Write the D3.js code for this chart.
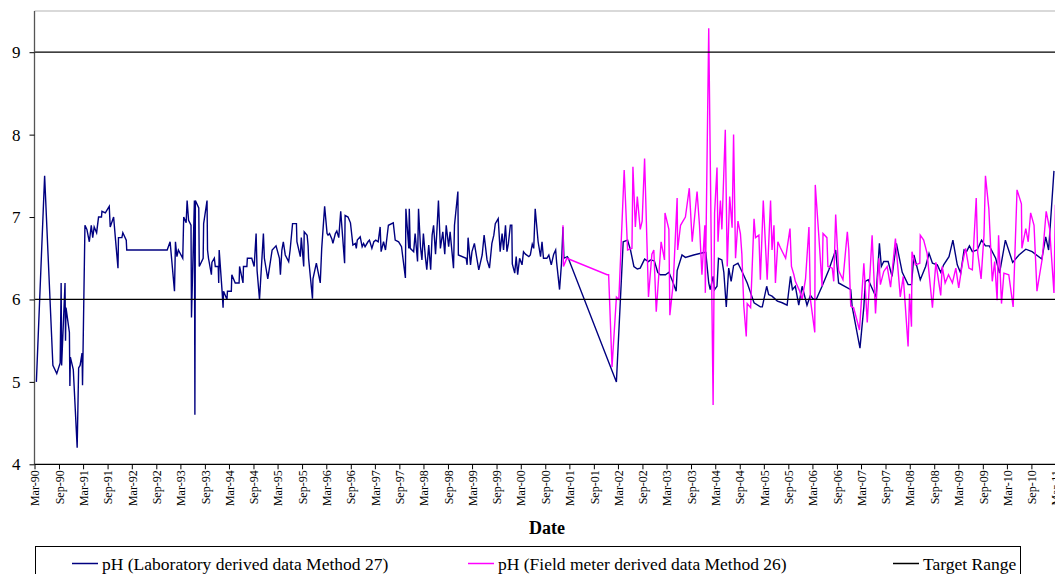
<!DOCTYPE html>
<html>
<head>
<meta charset="utf-8">
<script src="https://cdn.jsdelivr.net/npm/d3@7"></script>
<style>
  html, body { margin: 0; padding: 0; background: #fff; }
  svg { display: block; }
</style>
</head>
<body>
<svg id="chart" width="1055" height="574"></svg>
<script>
// ---- data (decimal year, pH) ----
const labDates = [1990.20,1990.37,1990.54,1990.62,1990.69,1990.71,1990.72,1990.79,1990.80,1990.81,1990.88,1990.89,1990.90,1990.96,1991.04,1991.07,1991.10,1991.14,1991.15,1991.20,1991.24,1991.29,1991.33,1991.36,1991.39,1991.44,1991.48,1991.54,1991.55,1991.62,1991.65,1991.70,1991.72,1991.79,1991.83,1991.88,1991.89,1991.96,1991.98,1992.05,1992.06,1992.89,1992.95,1993.04,1993.06,1993.09,1993.12,1993.21,1993.23,1993.28,1993.30,1993.33,1993.38,1993.39,1993.45,1993.46,1993.47,1993.54,1993.55,1993.63,1993.64,1993.71,1993.72,1993.74,1993.80,1993.81,1993.86,1993.88,1993.94,1993.95,1993.96,1994.02,1994.04,1994.05,1994.12,1994.13,1994.21,1994.22,1994.29,1994.37,1994.38,1994.45,1994.46,1994.53,1994.54,1994.63,1994.68,1994.72,1994.74,1994.79,1994.87,1994.89,1994.96,1995.05,1995.13,1995.20,1995.22,1995.25,1995.28,1995.32,1995.39,1995.42,1995.47,1995.55,1995.56,1995.63,1995.65,1995.70,1995.71,1995.77,1995.79,1995.80,1995.88,1995.89,1995.96,1996.04,1996.07,1996.13,1996.18,1996.20,1996.23,1996.28,1996.30,1996.35,1996.38,1996.42,1996.46,1996.54,1996.55,1996.61,1996.66,1996.71,1996.76,1996.78,1996.80,1996.86,1996.90,1996.93,1996.96,1997.02,1997.05,1997.10,1997.14,1997.18,1997.23,1997.27,1997.29,1997.34,1997.38,1997.44,1997.54,1997.58,1997.65,1997.71,1997.79,1997.80,1997.86,1997.87,1997.89,1997.96,1997.99,1998.04,1998.06,1998.10,1998.13,1998.16,1998.20,1998.23,1998.27,1998.31,1998.34,1998.37,1998.41,1998.44,1998.47,1998.51,1998.56,1998.60,1998.63,1998.68,1998.71,1998.78,1998.80,1998.87,1998.88,1999.04,1999.06,1999.08,1999.13,1999.16,1999.21,1999.26,1999.30,1999.37,1999.41,1999.43,1999.47,1999.52,1999.57,1999.61,1999.64,1999.70,1999.74,1999.78,1999.81,1999.85,1999.88,1999.91,1999.95,1999.98,1999.99,2000.04,2000.07,2000.10,2000.14,2000.19,2000.22,2000.26,2000.33,2000.36,2000.40,2000.43,2000.46,2000.52,2000.57,2000.60,2000.63,2000.70,2000.74,2000.79,2000.84,2000.88,2000.90,2000.96,2001.00,2001.03,2001.05,2001.12,2001.14,2002.13,2002.27,2002.36,2002.42,2002.49,2002.56,2002.62,2002.71,2002.79,2002.83,2002.91,2002.98,2003.03,2003.14,2003.21,2003.28,2003.36,2003.38,2003.48,2003.55,2003.72,2003.93,2003.97,2004.03,2004.06,2004.12,2004.15,2004.20,2004.23,2004.30,2004.34,2004.39,2004.44,2004.49,2004.54,2004.63,2004.72,2004.82,2004.89,2004.96,2005.09,2005.13,2005.22,2005.26,2005.33,2005.44,2005.54,2005.64,2005.71,2005.75,2005.81,2005.88,2005.95,2006.05,2006.12,2006.17,2006.24,2006.36,2006.50,2006.64,2006.70,2006.95,2006.98,2007.14,2007.22,2007.25,2007.31,2007.47,2007.54,2007.58,2007.63,2007.72,2007.80,2007.89,2008.01,2008.13,2008.20,2008.25,2008.38,2008.49,2008.56,2008.63,2008.73,2008.80,2008.86,2008.97,2009.05,2009.14,2009.21,2009.28,2009.33,2009.39,2009.45,2009.55,2009.64,2009.72,2009.80,2009.93,2010.01,2010.13,2010.28,2010.41,2010.55,2010.68,2010.88,2010.96,2011.02,2011.13];
const labValues = [5.0,7.5,5.2,5.1,5.23,6.2,5.2,6.2,5.5,5.9,5.6,4.95,5.3,5.15,4.2,5.17,5.2,5.35,4.96,6.9,6.85,6.7,6.9,6.75,6.88,6.81,7.0,7.0,7.07,7.05,7.08,7.13,6.88,7.0,6.72,6.38,6.75,6.75,6.81,6.72,6.6,6.6,6.7,6.1,6.7,6.52,6.6,6.5,7.0,6.93,7.2,6.96,6.9,5.78,7.2,4.6,7.2,7.11,6.4,6.5,6.92,7.2,6.6,6.5,6.3,6.45,6.5,6.4,6.4,6.2,6.6,6.1,5.9,6.1,6.0,6.1,6.1,6.3,6.2,6.2,6.4,6.2,6.4,6.4,6.5,6.5,6.4,6.8,6.35,6.0,6.8,6.5,6.25,6.6,6.65,6.5,6.3,6.6,6.7,6.54,6.46,6.6,6.92,6.92,6.7,6.52,6.75,6.4,6.82,6.78,6.65,6.5,6.01,6.25,6.44,6.2,6.62,7.13,6.8,6.78,6.8,6.73,6.68,6.8,6.83,6.75,7.07,6.44,7.02,7.0,6.93,6.66,6.68,6.62,6.72,6.76,6.64,6.68,6.64,6.7,6.72,6.62,6.7,6.72,6.7,6.88,6.58,6.7,6.6,6.9,6.93,6.72,6.7,6.64,6.26,7.1,6.62,7.1,6.62,6.58,6.8,6.46,7.1,6.64,6.48,6.8,6.52,6.36,6.66,6.36,6.78,6.9,6.55,6.85,7.2,6.62,6.82,6.55,6.9,6.64,6.82,6.38,6.9,7.31,6.54,6.5,6.42,6.75,6.42,6.58,6.68,6.5,6.36,6.54,6.78,6.68,6.48,6.38,6.68,6.78,6.92,6.98,6.58,6.8,6.6,6.9,6.58,6.68,6.9,6.9,6.43,6.32,6.52,6.3,6.5,6.42,6.58,6.55,6.52,6.54,6.67,6.62,7.1,6.7,6.52,6.7,6.5,6.5,6.54,6.42,6.55,6.6,6.45,6.12,6.44,6.88,6.5,6.52,6.5,5.0,6.7,6.72,6.6,6.4,6.37,6.38,6.49,6.46,6.48,6.47,6.33,6.3,6.3,6.33,6.23,6.1,6.35,6.54,6.51,6.54,6.57,6.57,6.2,6.12,6.28,6.12,6.16,6.5,6.48,6.33,5.91,6.38,6.22,6.41,6.44,6.33,6.2,6.08,5.96,5.91,5.91,6.16,6.06,6.04,5.98,5.96,5.93,6.28,6.12,6.16,5.93,6.16,5.93,6.05,6.01,6.0,6.16,6.36,6.6,6.2,6.12,5.91,5.41,5.91,6.22,6.24,6.03,6.68,6.4,6.46,6.46,6.28,6.68,6.33,6.18,6.18,6.54,6.24,6.4,6.56,6.44,6.42,6.33,6.42,6.52,6.72,6.42,6.32,6.6,6.58,6.65,6.58,6.6,6.72,6.65,6.65,6.5,6.32,6.72,6.45,6.54,6.61,6.58,6.49,6.76,6.6,7.56];

const fieldDates = [2001.03,2001.04,2001.11,2001.94,2001.97,2002.04,2002.13,2002.18,2002.29,2002.36,2002.45,2002.47,2002.52,2002.56,2002.62,2002.66,2002.71,2002.79,2002.86,2002.90,2002.95,2003.05,2003.12,2003.13,2003.21,2003.23,2003.30,2003.38,2003.39,2003.45,2003.50,2003.55,2003.63,2003.69,2003.79,2003.84,2003.89,2003.95,2003.96,2004.03,2004.12,2004.15,2004.20,2004.22,2004.27,2004.30,2004.37,2004.41,2004.46,2004.51,2004.54,2004.58,2004.63,2004.68,2004.71,2004.75,2004.80,2004.82,2004.89,2004.96,2004.99,2005.06,2005.09,2005.15,2005.23,2005.30,2005.33,2005.37,2005.40,2005.45,2005.50,2005.61,2005.70,2005.73,2005.78,2005.81,2005.90,2005.95,2006.02,2006.09,2006.12,2006.21,2006.22,2006.29,2006.36,2006.38,2006.46,2006.48,2006.57,2006.60,2006.64,2006.70,2006.79,2006.88,2006.91,2006.95,2007.01,2007.13,2007.22,2007.29,2007.39,2007.46,2007.53,2007.56,2007.63,2007.70,2007.77,2007.87,2007.97,2008.03,2008.07,2008.13,2008.16,2008.20,2008.21,2008.28,2008.37,2008.38,2008.45,2008.52,2008.63,2008.70,2008.80,2008.83,2008.89,2008.96,2009.04,2009.11,2009.17,2009.24,2009.31,2009.38,2009.45,2009.53,2009.56,2009.63,2009.69,2009.72,2009.79,2009.86,2009.91,2009.96,2009.99,2010.05,2010.10,2010.20,2010.29,2010.37,2010.46,2010.47,2010.55,2010.60,2010.65,2010.72,2010.78,2010.89,2010.97,2011.04,2011.13,2011.16];
const fieldValues = [6.9,6.4,6.5,6.3,6.3,5.18,6.03,6.0,7.57,6.6,6.62,7.61,6.88,7.25,6.85,6.95,7.71,6.03,6.55,6.6,5.85,6.7,6.48,7.05,6.85,5.81,6.2,7.23,6.6,6.9,6.95,7.0,7.35,6.7,7.31,6.9,6.3,6.9,6.08,9.29,4.72,7.05,7.6,6.7,7.2,6.85,8.06,6.4,7.25,6.87,8.0,6.5,6.95,6.8,6.55,5.92,5.55,5.95,5.9,6.98,6.75,6.78,6.24,7.2,6.24,7.2,6.6,6.9,6.2,6.7,6.63,6.5,6.86,6.4,6.3,6.22,6.1,6.0,6.25,6.88,6.0,5.6,7.39,6.8,6.16,6.8,6.75,6.4,6.38,6.22,7.03,6.35,6.24,6.82,6.6,5.92,5.9,5.63,6.44,5.72,6.78,5.83,6.5,6.18,6.34,6.4,6.15,6.74,6.03,6.28,5.95,5.43,6.07,5.67,6.58,6.42,6.44,6.78,6.72,6.56,5.9,6.45,6.05,6.4,6.2,6.3,6.2,6.38,6.14,6.42,6.62,6.38,6.36,7.23,6.57,6.25,6.78,7.5,7.1,6.22,6.46,5.99,6.78,5.95,6.32,6.3,5.91,7.33,7.16,6.62,6.86,6.7,7.05,6.9,6.1,6.5,7.07,6.86,6.08,7.15];

const targetValues = [6, 9];
const yTicks = [4, 5, 6, 7, 8, 9];
const monthNames = ["Jan","Feb","Mar","Apr","May","Jun","Jul","Aug","Sep","Oct","Nov","Dec"];
const seriesNames = ["pH (Laboratory derived data Method 27)", "pH (Field meter derived data Method 26)", "Target Range"];
const seriesColors = ["#000080", "#FF00FF", "#000000"];
const xTitle = "Date";

// ---- helpers ----
function yearToDate(yv) {
  const yr = Math.floor(yv);
  const start = Date.UTC(yr, 0, 1), end = Date.UTC(yr + 1, 0, 1);
  return new Date(start + (yv - yr) * (end - start));
}
const lab = labDates.map((d, i) => ({ date: yearToDate(d), v: labValues[i] }));
const field = fieldDates.map((d, i) => ({ date: yearToDate(d), v: fieldValues[i] }));

// ---- layout ----
const svg = d3.select("#chart");
const plotL = 34.5, plotT = 11, plotB = 464.3;
const plotR = 1062;
const font = "'Liberation Serif','Times New Roman',serif";

const x = d3.scaleUtc()
  .domain([new Date(Date.UTC(1990, 2, 1)), new Date(Date.UTC(2011, 2, 1))])
  .range([plotL, 1055.5]);
const y = d3.scaleLinear().domain([4, 9.5]).range([plotB, plotT]);
const xEnd = x.invert(plotR);

// plot border (top light grey)
svg.append("line").attr("x1", plotL).attr("x2", plotR).attr("y1", plotT).attr("y2", plotT)
  .attr("stroke", "#b4b4b4").attr("stroke-width", 1.2);

svg.append("clipPath").attr("id", "clip").append("rect")
  .attr("x", plotL).attr("y", plotT).attr("width", plotR - plotL).attr("height", plotB - plotT);

const line = d3.line().x(d => x(d.date)).y(d => y(d.v));
const g = svg.append("g").attr("clip-path", "url(#clip)");

g.append("path").datum(lab).attr("d", line)
  .attr("fill", "none").attr("stroke", seriesColors[0]).attr("stroke-width", 1.4);
g.append("path").datum(field).attr("d", line)
  .attr("fill", "none").attr("stroke", seriesColors[1]).attr("stroke-width", 1.4);

targetValues.forEach(t => {
  g.append("path")
    .datum([{ date: x.domain()[0], v: t }, { date: xEnd, v: t }])
    .attr("d", line).attr("fill", "none").attr("stroke", seriesColors[2]).attr("stroke-width", 1.3);
});

// y axis
const yAxis = d3.axisLeft(y).tickValues(yTicks).tickSize(5).tickPadding(9).tickFormat(d3.format("d"));
const yg = svg.append("g").attr("transform", `translate(${plotL},0)`).call(yAxis);
yg.select(".domain").attr("stroke", "#555").attr("stroke-width", 1.3).attr("d", `M0,${plotT}V${plotB}`);
yg.selectAll(".tick line").attr("stroke", "#000");
yg.selectAll("text").attr("font-family", font).attr("font-size", 17).attr("fill", "#000");

// x axis
const tickDates = [];
for (let yr = 1990; yr <= 2011; yr++) {
  tickDates.push(new Date(Date.UTC(yr, 2, 1)));
  if (yr < 2011) tickDates.push(new Date(Date.UTC(yr, 8, 1)));
}
const fmt = d => monthNames[d.getUTCMonth()] + "-" + String(d.getUTCFullYear() % 100).padStart(2, "0");
const xAxis = d3.axisBottom(x).tickValues(tickDates).tickSize(5).tickFormat(fmt);
const xg = svg.append("g").attr("transform", `translate(0,${plotB})`).call(xAxis);
xg.select(".domain").attr("stroke", "#000").attr("stroke-width", 1.3).attr("d", `M${plotL},0H${plotR}`);
xg.selectAll(".tick line").attr("stroke", "#000");
xg.selectAll("text")
  .attr("font-family", font).attr("font-size", 12).attr("fill", "#000")
  .attr("text-anchor", "end")
  .attr("transform", "rotate(-90)")
  .attr("x", -6).attr("y", 0).attr("dy", "0.35em");

// axis title
svg.append("text").attr("x", 547).attr("y", 534).attr("text-anchor", "middle")
  .attr("font-family", font).attr("font-size", 18).attr("font-weight", "bold").text(xTitle);

// legend
const lg = svg.append("g");
lg.append("rect").attr("x", 35.5).attr("y", 546.5).attr("width", 985).attr("height", 40)
  .attr("fill", "#fff").attr("stroke", "#000").attr("stroke-width", 1);
const legendX = [72, 468, 893];
seriesNames.forEach((n, i) => {
  lg.append("line").attr("x1", legendX[i]).attr("x2", legendX[i] + 26)
    .attr("y1", 563.5).attr("y2", 563.5).attr("stroke", seriesColors[i]).attr("stroke-width", 1.5);
  lg.append("text").attr("x", legendX[i] + 30).attr("y", 569.5)
    .attr("font-family", font).attr("font-size", 17.5).attr("fill", "#000").text(n);
});
</script>
</body>
</html>
